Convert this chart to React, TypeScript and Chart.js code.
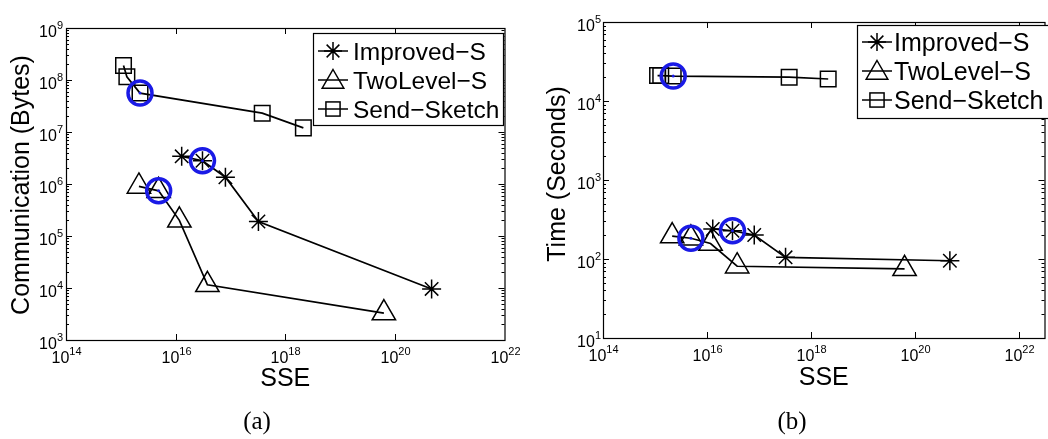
import React, { useEffect, useRef } from 'react';
import { Chart, registerables } from 'chart.js';

Chart.register(...registerables);

// ---------- data ----------
const seriesNames = ['Improved\u2212S', 'TwoLevel\u2212S', 'Send\u2212Sketch'];
const improvedSSE = [1.29e16, 3.09e16, 8.1e16, 3.24e17, 4.68e20];
const twoLevelSSE = [2.14e15, 4.9e15, 1.17e16, 3.8e16, 6.3e19];
const sendSketchSSE = [1.12e15, 1.29e15, 2.24e15, 3.8e17, 2.14e18];

const improvedComm = [3.4e6, 2.8e6, 1.35e6, 1.9e5, 9.6e3];
const twoLevelComm = [9.0e5, 7.4e5, 2.0e5, 1.15e4, 3.3e3];
const sendSketchComm = [1.9e8, 1.15e8, 5.6e7, 2.3e7, 1.2e7];

const improvedTime = [240, 228, 201, 105, 95];
const twoLevelTime = [195, 183, 157, 81, 75];
const sendSketchTime = [21000, 21000, 20700, 20000, 19000];

// index of the highlighted (circled) point in each series: improved, twoLevel, sendSketch
const highlightIdx = [1, 1, 2];

const xTickExps = [14, 16, 18, 20, 22];
const commTickExps = [3, 4, 5, 6, 7, 8, 9];
const timeTickExps = [1, 2, 3, 4, 5];

// ---------- styles ----------
const SANS = '"Liberation Sans", Arial, Helvetica, sans-serif';
const SERIF = '"Liberation Serif", "Times New Roman", serif';
const BLUE = '#1a1ae6';
const STAR_R = 9.5;
const TRI_R = 13.5;
const RECT_R = 11;

type LegendCfg = {
  x: number; y: number; w: number; h: number;
  rows: number[]; lineX1: number; lineX2: number; textX: number; font: number;
};

type PanelCfg = {
  left: number; width: number; height: number;
  plotLeft: number; plotTop: number; plotRight: number; plotBottom: number;
  xMax: number; yMin: number; yMax: number; yTicks: number[];
  improvedY: number[]; twoLevelY: number[]; sendY: number[];
  yTitle: string; yTitleX: number; yTitleY: number;
  xTitleY: number;
  caption: string; captionX: number; captionY: number;
  tickGap: number;
  legend: LegendCfg;
};

function drawStar(ctx: CanvasRenderingContext2D, x: number, y: number, r: number) {
  const d = r * Math.SQRT1_2;
  ctx.beginPath();
  ctx.moveTo(x, y - r); ctx.lineTo(x, y + r);
  ctx.moveTo(x - r, y); ctx.lineTo(x + r, y);
  ctx.moveTo(x - d, y - d); ctx.lineTo(x + d, y + d);
  ctx.moveTo(x - d, y + d); ctx.lineTo(x + d, y - d);
  ctx.stroke();
}
function drawTri(ctx: CanvasRenderingContext2D, x: number, y: number, r: number) {
  ctx.beginPath();
  ctx.moveTo(x, y - r);
  ctx.lineTo(x + 0.866 * r, y + 0.5 * r);
  ctx.lineTo(x - 0.866 * r, y + 0.5 * r);
  ctx.closePath();
  ctx.stroke();
}
function drawRect(ctx: CanvasRenderingContext2D, x: number, y: number, r: number) {
  const s = r * Math.SQRT1_2;
  ctx.strokeRect(x - s, y - s, 2 * s, 2 * s);
}

function drawPow(ctx: CanvasRenderingContext2D, exp: number, x: number, y: number, align: 'center' | 'right') {
  ctx.font = `16px ${SANS}`;
  const wb = ctx.measureText('10').width;
  ctx.font = `11px ${SANS}`;
  const es = String(exp);
  const we = ctx.measureText(es).width;
  const total = wb + we;
  const left = align === 'center' ? x - total / 2 : x - total;
  ctx.textAlign = 'left';
  ctx.textBaseline = 'alphabetic';
  ctx.font = `16px ${SANS}`;
  ctx.fillText('10', left, y);
  ctx.font = `11px ${SANS}`;
  ctx.fillText(es, left + wb, y - 8);
}

function makePlugin(cfg: PanelCfg) {
  return {
    id: 'matlabAxes',
    afterDraw(chart: any) {
      const ctx: CanvasRenderingContext2D = chart.ctx;
      const xs = chart.scales.x;
      const ys = chart.scales.y;
      const { left, right, top, bottom } = chart.chartArea;
      ctx.save();
      ctx.fillStyle = '#000';
      ctx.strokeStyle = '#000';
      ctx.lineWidth = 1.2;
      // box
      ctx.strokeRect(left + 0.5, top + 0.5, right - left, bottom - top);
      // x ticks
      ctx.lineWidth = 1;
      for (const e of xTickExps) {
        const px = Math.round(xs.getPixelForValue(Math.pow(10, e))) + 0.5;
        if (px > left + 1 && px < right - 1) {
          ctx.beginPath();
          ctx.moveTo(px, bottom); ctx.lineTo(px, bottom - 6);
          ctx.moveTo(px, top); ctx.lineTo(px, top + 6);
          ctx.stroke();
        }
        drawPow(ctx, e, px, bottom + 23, 'center');
      }
      // y ticks
      for (let i = 0; i < cfg.yTicks.length; i++) {
        const e = cfg.yTicks[i];
        const py = Math.round(ys.getPixelForValue(Math.pow(10, e))) + 0.5;
        if (py > top + 1 && py < bottom - 1) {
          ctx.beginPath();
          ctx.moveTo(left, py); ctx.lineTo(left + 6, py);
          ctx.moveTo(right, py); ctx.lineTo(right - 6, py);
          ctx.stroke();
        }
        if (i < cfg.yTicks.length - 1) {
          for (let k = 2; k <= 9; k++) {
            const pm = Math.round(ys.getPixelForValue(k * Math.pow(10, e))) + 0.5;
            ctx.beginPath();
            ctx.moveTo(left, pm); ctx.lineTo(left + 3, pm);
            ctx.moveTo(right, pm); ctx.lineTo(right - 3, pm);
            ctx.stroke();
          }
        }
        drawPow(ctx, e, left - cfg.tickGap, py + 8, 'right');
      }
      // axis titles
      ctx.font = `25px ${SANS}`;
      ctx.textAlign = 'center';
      ctx.textBaseline = 'alphabetic';
      ctx.fillText('SSE', (left + right) / 2, cfg.xTitleY);
      ctx.save();
      ctx.translate(cfg.yTitleX, cfg.yTitleY);
      ctx.rotate(-Math.PI / 2);
      ctx.textBaseline = 'middle';
      ctx.fillText(cfg.yTitle, 0, 0);
      ctx.restore();
      // caption
      ctx.font = `25px ${SERIF}`;
      ctx.textAlign = 'center';
      ctx.textBaseline = 'alphabetic';
      ctx.fillText(cfg.caption, cfg.captionX, cfg.captionY);
      // legend
      const L = cfg.legend;
      ctx.fillStyle = '#fff';
      ctx.fillRect(L.x, L.y, L.w, L.h);
      ctx.lineWidth = 1.2;
      ctx.strokeRect(L.x + 0.5, L.y + 0.5, L.w, L.h);
      ctx.fillStyle = '#000';
      ctx.lineWidth = 1.5;
      const mx = (L.lineX1 + L.lineX2) / 2;
      for (let i = 0; i < 3; i++) {
        const ry = L.rows[i];
        ctx.beginPath();
        ctx.moveTo(L.lineX1, ry); ctx.lineTo(L.lineX2, ry);
        ctx.stroke();
        if (i === 0) drawStar(ctx, mx, ry, 9);
        if (i === 1) drawTri(ctx, mx, ry + 2, 12.5);
        if (i === 2) drawRect(ctx, mx, ry, 10);
        ctx.font = `${L.font}px ${SANS}`;
        ctx.textAlign = 'left';
        ctx.textBaseline = 'alphabetic';
        ctx.fillText(seriesNames[i], L.textX, ry + L.font * 0.36);
      }
      ctx.restore();
    },
  };
}

function pts(xs: number[], ys: number[]) {
  return xs.map((x, i) => ({ x, y: ys[i] }));
}

function buildConfig(cfg: PanelCfg): any {
  const series = [
    { label: seriesNames[0], xs: improvedSSE, ys: cfg.improvedY, style: 'star', r: STAR_R },
    { label: seriesNames[1], xs: twoLevelSSE, ys: cfg.twoLevelY, style: 'triangle', r: TRI_R },
    { label: seriesNames[2], xs: sendSketchSSE, ys: cfg.sendY, style: 'rect', r: RECT_R },
  ];
  const highlight = series.map((s, i) => ({ x: s.xs[highlightIdx[i]], y: s.ys[highlightIdx[i]] }));
  const datasets: any[] = series.map((s) => ({
    label: s.label,
    data: pts(s.xs, s.ys),
    showLine: true,
    borderColor: '#000',
    borderWidth: 1.7,
    pointStyle: s.style,
    pointRadius: s.r,
    pointBorderColor: '#000',
    pointBackgroundColor: 'rgba(0,0,0,0)',
    pointBorderWidth: 1.5,
    order: 2,
  }));
  datasets.push({
    label: 'highlight',
    data: highlight,
    showLine: false,
    pointStyle: 'circle',
    pointRadius: 12,
    pointBorderWidth: 3.5,
    pointBorderColor: BLUE,
    pointBackgroundColor: 'rgba(0,0,0,0)',
    order: 0,
  });
  datasets.push({
    label: 'highlight-center',
    data: highlight,
    showLine: false,
    pointStyle: 'circle',
    pointRadius: 1.5,
    pointBorderWidth: 0,
    pointBackgroundColor: BLUE,
    order: 0,
  });
  return {
    type: 'scatter',
    data: { datasets },
    options: {
      responsive: false,
      animation: false,
      devicePixelRatio: 1,
      events: [],
      layout: {
        padding: { left: 0, top: cfg.plotTop, right: cfg.width - cfg.plotRight, bottom: 0 },
      },
      scales: {
        x: {
          type: 'logarithmic',
          min: 1e14,
          max: cfg.xMax,
          grid: { display: false },
          border: { display: false },
          ticks: { display: false },
          title: { display: false },
          afterFit: (s: any) => { s.height = cfg.height - cfg.plotBottom; },
        },
        y: {
          type: 'logarithmic',
          min: cfg.yMin,
          max: cfg.yMax,
          grid: { display: false },
          border: { display: false },
          ticks: { display: false },
          title: { display: false },
          afterFit: (s: any) => { s.width = cfg.plotLeft; },
        },
      },
      plugins: {
        legend: { display: false },
        tooltip: { enabled: false },
        title: { display: false },
      },
    },
    plugins: [makePlugin(cfg)],
  };
}

const panelA: PanelCfg = {
  left: 0, width: 520, height: 439,
  plotLeft: 66, plotTop: 28, plotRight: 506, plotBottom: 340,
  xMax: 1e22, yMin: 1e3, yMax: 1e9, yTicks: commTickExps,
  improvedY: improvedComm, twoLevelY: twoLevelComm, sendY: sendSketchComm,
  yTitle: 'Communication (Bytes)', yTitleX: 22, yTitleY: 185,
  xTitleY: 386,
  caption: '(a)', captionX: 257, captionY: 429,
  tickGap: 3,
  legend: { x: 313, y: 33, w: 190, h: 92, rows: [51, 80, 109], lineX1: 318, lineX2: 348, textX: 353, font: 24.5 },
};

const panelB: PanelCfg = {
  left: 520, width: 540, height: 439,
  plotLeft: 83, plotTop: 22, plotRight: 533, plotBottom: 338,
  xMax: Math.pow(10, 22.49), yMin: 1e1, yMax: 1e5, yTicks: timeTickExps,
  improvedY: improvedTime, twoLevelY: twoLevelTime, sendY: sendSketchTime,
  yTitle: 'Time (Seconds)', yTitleX: 38, yTitleY: 174,
  xTitleY: 385,
  caption: '(b)', captionX: 272, captionY: 429,
  tickGap: 2,
  legend: { x: 337, y: 25, w: 200, h: 93, rows: [42, 71, 100], lineX1: 342, lineX2: 372, textX: 374, font: 25 },
};

function Panel({ cfg }: { cfg: PanelCfg }) {
  const ref = useRef<HTMLCanvasElement>(null);
  useEffect(() => {
    if (!ref.current) return;
    const chart = new Chart(ref.current, buildConfig(cfg));
    return () => chart.destroy();
  }, [cfg]);
  return (
    <canvas
      ref={ref}
      width={cfg.width}
      height={cfg.height}
      style={{ position: 'absolute', left: cfg.left, top: 0, width: cfg.width, height: cfg.height }}
    />
  );
}

export default function App() {
  return (
    <div
      style={{
        position: 'absolute', left: 0, top: 0, width: 1048, height: 439,
        overflow: 'hidden', background: '#fff',
      }}
    >
      <Panel cfg={panelA} />
      <Panel cfg={panelB} />
    </div>
  );
}
